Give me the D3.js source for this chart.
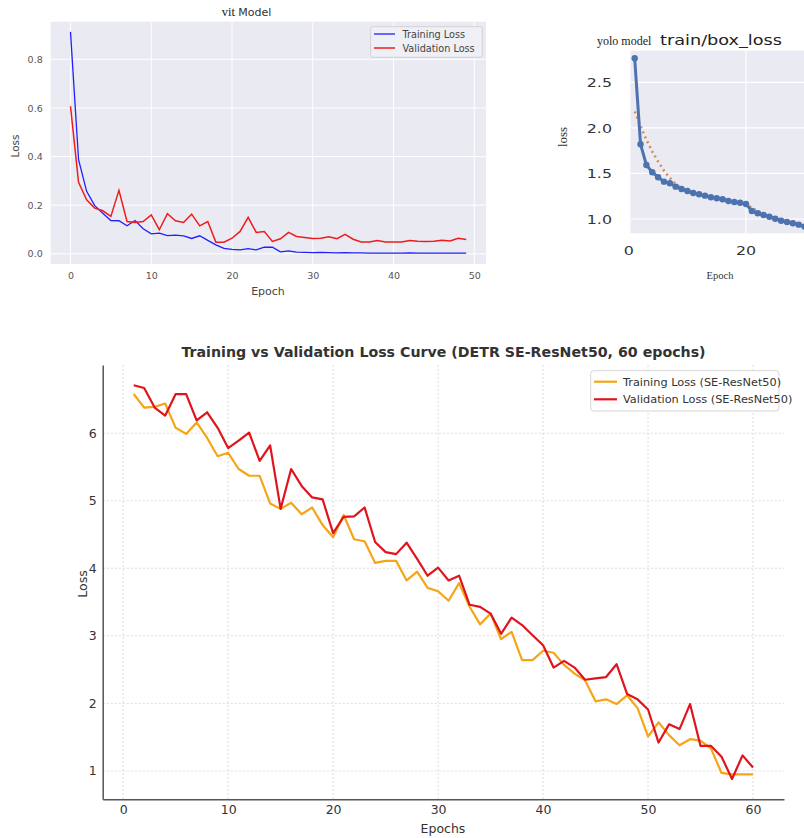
<!DOCTYPE html>
<html>
<head>
<meta charset="utf-8">
<script src="https://cdn.jsdelivr.net/npm/d3@7"></script>
<style>
  body { margin: 0; background: #fff; }
  svg { display: block; font-family: "DejaVu Sans", sans-serif; }
</style>
</head>
<body>
<svg id="fig" width="804" height="838"></svg>
<script>
// ---- vit model (epochs 0..49)
const vitTrain = [0.913,0.387,0.257,0.198,0.167,0.137,0.136,0.115,0.137,0.103,
  0.082,0.085,0.075,0.077,0.074,0.063,0.074,0.055,0.037,0.022,
  0.018,0.016,0.021,0.016,0.027,0.027,0.008,0.012,0.007,0.006,
  0.005,0.006,0.005,0.004,0.005,0.004,0.004,0.003,0.003,0.003,
  0.003,0.003,0.004,0.003,0.003,0.003,0.003,0.003,0.003,0.003];
const vitVal = [0.607,0.294,0.222,0.188,0.177,0.154,0.261,0.133,0.129,0.133,
  0.160,0.099,0.165,0.136,0.129,0.163,0.115,0.133,0.048,0.048,
  0.064,0.092,0.150,0.088,0.092,0.051,0.062,0.088,0.071,0.067,
  0.063,0.064,0.070,0.062,0.080,0.060,0.049,0.049,0.055,0.049,
  0.049,0.049,0.055,0.052,0.051,0.052,0.056,0.053,0.064,0.059];
const vitXTicks = [0, 10, 20, 30, 40, 50];
const vitYTicks = [0, 0.2, 0.4, 0.6, 0.8];

// ---- yolo train/box_loss (epochs 1..30, rest cut off by the frame)
const yoloBox = [2.764,1.82,1.593,1.513,1.458,1.41,1.392,1.355,1.33,1.307,
  1.285,1.271,1.256,1.238,1.227,1.216,1.198,1.187,1.179,1.165,
  1.088,1.063,1.044,1.025,1.003,0.981,0.967,0.953,0.938,0.916];
const yoloSmooth = [2.18,2.02,1.87,1.74,1.63,1.53,1.45,1.38,1.34,1.312,
  1.29,1.272,1.257,1.242,1.228,1.215,1.201,1.19,1.18,1.168,
  1.12,1.085,1.06,1.038,1.016,0.995,0.977,0.96,0.944,0.926];
const yoloXTicks = [0, 20];
const yoloYTicks = [1.0, 1.5, 2.0, 2.5];

// ---- DETR SE-ResNet50 (epochs 1..60)
const detrTrain = [6.58,6.38,6.39,6.44,6.08,5.99,6.16,5.93,5.66,5.71,
  5.47,5.37,5.37,4.96,4.88,4.97,4.80,4.90,4.64,4.46,
  4.79,4.43,4.40,4.08,4.11,4.11,3.82,3.95,3.71,3.66,
  3.52,3.78,3.43,3.17,3.33,2.95,3.06,2.64,2.64,2.78,
  2.75,2.57,2.44,2.34,2.03,2.06,1.99,2.12,1.93,1.51,
  1.72,1.53,1.38,1.47,1.45,1.33,0.97,0.95,0.95,0.95];
const detrVal = [6.71,6.67,6.38,6.26,6.58,6.58,6.19,6.31,6.08,5.78,
  5.89,6.01,5.59,5.82,4.88,5.47,5.22,5.05,5.02,4.52,
  4.76,4.77,4.90,4.39,4.24,4.21,4.38,4.14,3.89,4.01,
  3.82,3.89,3.46,3.43,3.33,3.03,3.27,3.16,3.01,2.86,
  2.53,2.63,2.53,2.35,2.37,2.39,2.58,2.14,2.06,1.91,
  1.42,1.69,1.62,1.99,1.37,1.37,1.21,0.88,1.23,1.05];
const detrXTicks = [0, 10, 20, 30, 40, 50, 60];
const detrYTicks = [1, 2, 3, 4, 5, 6];

const svg = d3.select("#fig");

// ================= vit Model =================
{
  const g = svg.append("g");
  const x = d3.scaleLinear().domain([-2.45, 51.45]).range([50.7, 486]);
  const y = d3.scaleLinear().domain([-0.042, 0.955]).range([264, 21.7]);

  g.append("rect").attr("x", 50.7).attr("y", 21.7)
    .attr("width", 486 - 50.7).attr("height", 264 - 21.7).attr("fill", "#eaeaf2");

  g.append("g").selectAll("line").data(vitXTicks).join("line")
    .attr("x1", d => x(d)).attr("x2", d => x(d)).attr("y1", 21.7).attr("y2", 264)
    .attr("stroke", "#fff").attr("stroke-width", 1);
  g.append("g").selectAll("line").data(vitYTicks).join("line")
    .attr("x1", 50.7).attr("x2", 486).attr("y1", d => y(d)).attr("y2", d => y(d))
    .attr("stroke", "#fff").attr("stroke-width", 1);

  const gx = g.append("g").attr("transform", "translate(0,264)")
    .call(d3.axisBottom(x).tickValues(vitXTicks).tickSize(0).tickPadding(8).tickFormat(d3.format("d")));
  const gy = g.append("g").attr("transform", "translate(50.7,0)")
    .call(d3.axisLeft(y).tickValues(vitYTicks).tickSize(0).tickPadding(8).tickFormat(d3.format(".1f")));
  [gx, gy].forEach(a => {
    a.select(".domain").remove();
    a.selectAll("text").attr("font-size", 9.5).attr("fill", "#555").attr("font-family", "DejaVu Sans");
  });

  const line = d3.line().x((d, i) => x(i)).y(d => y(d));
  g.append("path").datum(vitTrain).attr("d", line).attr("fill", "none")
    .attr("stroke", "#2020ff").attr("stroke-width", 1.3);
  g.append("path").datum(vitVal).attr("d", line).attr("fill", "none")
    .attr("stroke", "#ee1c1c").attr("stroke-width", 1.5);

  g.append("text").attr("x", 221.7).attr("y", 15.5)
    .attr("font-family", "Liberation Serif, serif").attr("font-size", 12.5).attr("fill", "#222").text("vit");
  g.append("text").attr("x", 238.3).attr("y", 16)
    .attr("font-size", 11).attr("fill", "#333").text("Model");

  g.append("text").attr("x", 268).attr("y", 295).attr("text-anchor", "middle")
    .attr("font-size", 11).attr("fill", "#444").text("Epoch");
  g.append("text").attr("transform", "translate(19,146) rotate(-90)").attr("text-anchor", "middle")
    .attr("font-size", 10.5).attr("fill", "#444").text("Loss");

  const leg = g.append("g");
  leg.append("rect").attr("x", 370.7).attr("y", 26.7).attr("width", 111.6).attr("height", 30.6)
    .attr("rx", 2).attr("fill", "#eef0f5").attr("stroke", "#ccc").attr("stroke-width", 0.8);
  [["Training Loss", "#2020ff", 1.3], ["Validation Loss", "#ee1c1c", 1.5]].forEach(([t, c, w], i) => {
    const yy = 34 + i * 14;
    leg.append("line").attr("x1", 374).attr("x2", 395).attr("y1", yy).attr("y2", yy)
      .attr("stroke", c).attr("stroke-width", w);
    leg.append("text").attr("x", 402.5).attr("y", yy + 3.5).attr("font-size", 9.7)
      .attr("fill", "#444").text(t);
  });
}

// ================= yolo model =================
// this panel is stretched sideways in the source, so its text gets a scaleX
{
  const g = svg.append("g");
  const left = 630.4, right = 804, top = 50.7, bottom = 233.3;
  const sx = 1.22;
  const x = d3.scaleLinear().domain([0.27, 29.9]).range([left, right]);
  const y = d3.scaleLinear().domain([0.843, 2.847]).range([bottom, top]);

  svg.append("defs").append("clipPath").attr("id", "yoloClip")
    .append("rect").attr("x", left).attr("y", top - 6).attr("width", right - left).attr("height", bottom - top + 6);

  g.append("rect").attr("x", left).attr("y", top).attr("width", right - left)
    .attr("height", bottom - top).attr("fill", "#eaeaf2");
  g.append("g").selectAll("line").data(yoloXTicks.filter(d => x(d) > left)).join("line")
    .attr("x1", d => x(d)).attr("x2", d => x(d)).attr("y1", top).attr("y2", bottom)
    .attr("stroke", "#fff").attr("stroke-width", 1.2);
  g.append("g").selectAll("line").data(yoloYTicks).join("line")
    .attr("x1", left).attr("x2", right).attr("y1", d => y(d)).attr("y2", d => y(d))
    .attr("stroke", "#fff").attr("stroke-width", 1.2);

  g.append("g").selectAll("text").data(yoloXTicks).join("text")
    .attr("transform", d => `translate(${x(d)},255) scale(${sx},1)`)
    .attr("text-anchor", "middle").attr("font-size", 13).attr("fill", "#333")
    .text(d3.format("d"));
  g.append("g").selectAll("text").data(yoloYTicks).join("text")
    .attr("transform", d => `translate(612,${y(d)}) scale(${sx},1)`)
    .attr("dy", "0.36em").attr("text-anchor", "end").attr("font-size", 13).attr("fill", "#333")
    .text(d3.format(".1f"));

  const plot = g.append("g").attr("clip-path", "url(#yoloClip)");
  const line = d3.line().x((d, i) => x(i + 1)).y(d => y(d));
  plot.append("path").datum(yoloSmooth).attr("d", line).attr("fill", "none")
    .attr("stroke", "#d98a5a").attr("stroke-width", 2.6).attr("stroke-dasharray", "2,3.4");
  plot.append("path").datum(yoloBox).attr("d", line).attr("fill", "none")
    .attr("stroke", "#4c72b0").attr("stroke-width", 3);
  plot.append("g").selectAll("circle").data(yoloBox).join("circle")
    .attr("cx", (d, i) => x(i + 1)).attr("cy", d => y(d)).attr("r", 3.2).attr("fill", "#4c72b0");

  g.append("text").attr("x", 597).attr("y", 44.5)
    .attr("font-family", "Liberation Serif, serif").attr("font-size", 12).attr("fill", "#222").text("yolo model");
  g.append("text").attr("transform", `translate(660,45) scale(${sx},1)`)
    .attr("font-size", 14.5).attr("fill", "#222").text("train/box_loss");

  g.append("text").attr("x", 720).attr("y", 279).attr("text-anchor", "middle")
    .attr("font-family", "Liberation Serif, serif").attr("font-size", 10.5).attr("fill", "#333").text("Epoch");
  g.append("text").attr("transform", "translate(567,137) rotate(-90)").attr("text-anchor", "middle")
    .attr("font-family", "Liberation Serif, serif").attr("font-size", 13).attr("fill", "#333").text("loss");
}

// ================= DETR SE-ResNet50 =================
{
  const g = svg.append("g");
  const left = 102.7, right = 784, top = 365, bottom = 799.3;
  const x = d3.scaleLinear().domain([-1.95, 62.95]).range([left, right]);
  const y = d3.scaleLinear().domain([0.58, 7.01]).range([bottom, top]);

  g.append("g").selectAll("line").data(detrXTicks).join("line")
    .attr("x1", d => x(d)).attr("x2", d => x(d)).attr("y1", top).attr("y2", bottom)
    .attr("stroke", "#d4d4d4").attr("stroke-width", 0.8).attr("stroke-dasharray", "2,2");
  g.append("g").selectAll("line").data(detrYTicks).join("line")
    .attr("x1", left).attr("x2", right).attr("y1", d => y(d)).attr("y2", d => y(d))
    .attr("stroke", "#d4d4d4").attr("stroke-width", 0.8).attr("stroke-dasharray", "2,2");

  const gx = g.append("g").attr("transform", `translate(0,${bottom})`)
    .call(d3.axisBottom(x).tickValues(detrXTicks).tickSize(0).tickPadding(6).tickFormat(d3.format("d")));
  const gy = g.append("g").attr("transform", `translate(${left},0)`)
    .call(d3.axisLeft(y).tickValues(detrYTicks).tickSize(0).tickPadding(6).tickFormat(d3.format("d")));
  gx.select(".domain").attr("stroke", "#555").attr("stroke-width", 1.5);
  gy.select(".domain").attr("stroke", "#555").attr("stroke-width", 1.5);
  [gx, gy].forEach(a => a.selectAll("text").attr("font-size", 12.5).attr("fill", "#333")
    .attr("font-family", "DejaVu Sans"));

  const line = d3.line().x((d, i) => x(i + 1)).y(d => y(d));
  g.append("path").datum(detrTrain).attr("d", line).attr("fill", "none")
    .attr("stroke", "#f5a516").attr("stroke-width", 2.2).attr("stroke-linejoin", "round");
  g.append("path").datum(detrVal).attr("d", line).attr("fill", "none")
    .attr("stroke", "#e0141c").attr("stroke-width", 2.2).attr("stroke-linejoin", "round");

  g.append("text").attr("x", 443.5).attr("y", 357).attr("text-anchor", "middle")
    .attr("font-size", 14.2).attr("font-weight", "bold").attr("fill", "#333")
    .text("Training vs Validation Loss Curve (DETR SE-ResNet50, 60 epochs)");
  g.append("text").attr("x", 443).attr("y", 833).attr("text-anchor", "middle")
    .attr("font-size", 12.5).attr("fill", "#333").text("Epochs");
  g.append("text").attr("transform", "translate(87,584) rotate(-90)").attr("text-anchor", "middle")
    .attr("font-size", 12.5).attr("fill", "#333").text("Loss");

  const leg = g.append("g");
  leg.append("rect").attr("x", 590.7).attr("y", 370.7).attr("width", 188.3).attr("height", 40.3)
    .attr("rx", 3).attr("fill", "#fff").attr("stroke", "#ccc").attr("stroke-width", 0.8);
  [["Training Loss (SE-ResNet50)", "#f5a516"], ["Validation Loss (SE-ResNet50)", "#e0141c"]].forEach(([t, c], i) => {
    const yy = 381.7 + i * 17.6;
    leg.append("line").attr("x1", 594).attr("x2", 617).attr("y1", yy).attr("y2", yy)
      .attr("stroke", c).attr("stroke-width", 2.2);
    leg.append("text").attr("x", 623).attr("y", yy + 4).attr("font-size", 11.3)
      .attr("fill", "#333").text(t);
  });
}
</script>
</body>
</html>
